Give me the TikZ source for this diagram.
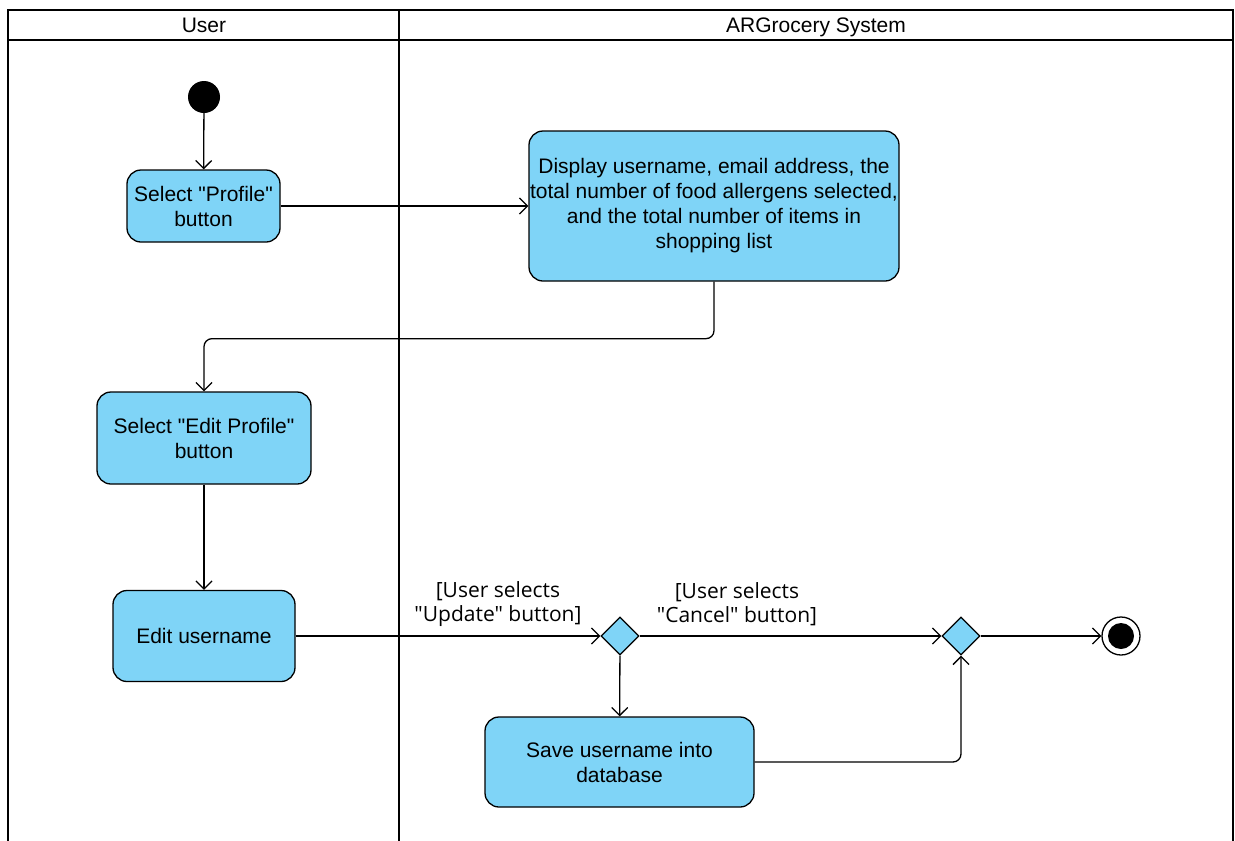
\documentclass[tikz,border=0pt]{standalone}
\usepackage{fontspec}
\setmainfont{Liberation Sans}
% plain families (no TeX ligature mapping, so " stays a straight quote)
\newfontfamily\boxfont{Liberation Sans}
\newfontfamily\guardfont{Open Sans}
\usetikzlibrary{arrows.meta,shapes.geometric}
\definecolor{actfill}{HTML}{7FD4F7}

\begin{document}
\begin{tikzpicture}[x=1pt,y=-1pt,
  lane/.style={draw=black,line width=2.4pt},
  act/.style={draw=black,line width=1.3pt,fill=actfill,rounded corners=14pt,
    align=center,inner sep=0pt,font=\boxfont\fontsize{21}{25}\selectfont},
  decision/.style={diamond,draw=black,line width=1.3pt,fill=actfill,
    minimum width=38pt,minimum height=38pt,inner sep=0pt},
  flow/.style={draw=black,line width=1.3pt,rounded corners=8pt,
    -{Straight Barb[length=8pt,width=16pt,line width=1.3pt]}},
  guard/.style={align=center,inner sep=0pt,font=\guardfont\fontsize{21}{24}\selectfont},
  lanetitle/.style={inner sep=0pt,font=\boxfont\fontsize{21}{24}\selectfont}
]
\useasboundingbox (0,0) rectangle (1235,841);

% swimlanes
\draw[lane] (8,841) -- (8,10) -- (1233,10) -- (1233,841);
\draw[lane] (8,40) -- (1233,40);
\draw[lane] (399,10) -- (399,841);
\node[lanetitle,anchor=base] (laneuser) at (204,32) {User};
\node[lanetitle,anchor=base] (lanesys) at (816,32) {ARGrocery System};

% activities
\node[circle,fill=black,minimum size=32pt,inner sep=0pt] (start) at (204,97) {};
\node[act,minimum width=153pt,minimum height=72pt] (profile) at (203.5,206)
  {Select "Profile"\\button};
\node[act,minimum width=370pt,minimum height=150pt] (display) at (714,206)
  {Display username, email address, the\\total number of food allergens selected,\\and the total number of items in\\shopping list};
\node[act,minimum width=214pt,minimum height=92pt] (editprof) at (204,438)
  {Select "Edit Profile"\\button};
\node[act,minimum width=182pt,minimum height=91pt] (editname) at (204,636)
  {Edit username};
\node[decision] (d1) at (620,636) {};
\node[decision] (d2) at (961,636) {};
\node[act,minimum width=269pt,minimum height=90pt] (save) at (619.5,762)
  {Save username into\\database};
\node[circle,draw=black,line width=1.3pt,minimum size=38pt,inner sep=0pt] (end) at (1121,636) {};
\node[circle,fill=black,minimum size=26pt,inner sep=0pt] (enddot) at (end.center) {};

% guards
\node[guard] (gupdate) at (498,604) {[User selects\\"Update" button]};
\node[guard] (gcancel) at (737,604) {[User selects\\"Cancel" button]};

% control flow
\draw[flow] (start) -- (profile);
\draw[flow] (profile) -- (display);
\draw[flow] (display.south) -- ++(0,57) -| (editprof.north);
\draw[flow] (editprof) -- (editname);
\draw[flow] (editname) -- (d1);
\draw[flow] (d1) -- (d2);
\draw[flow] (d1) -- (save);
\draw[flow] (save.east) -| (d2.south);
\draw[flow] (d2) -- (end);
\end{tikzpicture}
\end{document}
